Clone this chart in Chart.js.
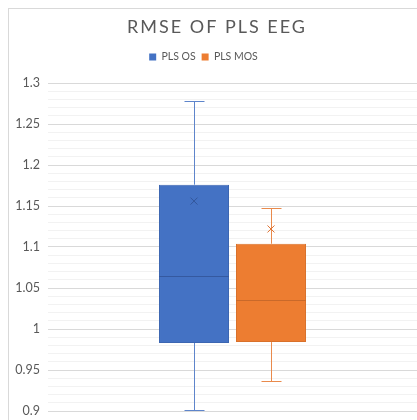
<!DOCTYPE html>
<html><head><meta charset="utf-8">
<script src="https://cdn.jsdelivr.net/npm/chart.js@4/dist/chart.umd.min.js"></script>
<style>html,body{margin:0;padding:0;background:#fff;}</style>
</head><body>
<canvas id="c" width="417" height="420"></canvas>
<script>
// ---- data ----
const categories = ['PLS OS', 'PLS MOS'];
const minValues    = [0.901, 0.937];
const q1Values     = [0.983, 0.984];
const medianValues = [1.065, 1.035];
const q3Values     = [1.176, 1.104];
const maxValues    = [1.278, 1.148];
const meanValues   = [1.156, 1.122];
const yMin = 0.9, yMax = 1.3, yMinorStep = 0.01, yMajorStep = 0.05;
const chartTitle = 'RMSE OF PLS EEG';

// ---- styles ----
const fillColors   = ['#4472C4', '#ED7D31'];
const borderColors = ['#3C66B2', '#D9712B'];
const whiskerColors= ['#5E85CB', '#E98A4C'];
const medianColors = ['#3559A0', '#C9692A'];
const meanColors   = ['#33579C', '#E07332'];
const textColor = '#595959';
const FONT = 'Lato';

const isMajor = v => Math.abs(Math.round(v * 100) % 5) === 0;

const boxPlugin = {
  id: 'boxExtras',
  beforeDraw(chart) {
    const ctx = chart.ctx;
    ctx.save();
    ctx.fillStyle = '#ffffff';
    ctx.fillRect(0, 0, chart.width, chart.height);
    ctx.strokeStyle = '#D9D9D9';
    ctx.lineWidth = 1;
    ctx.strokeRect(8.5, 8.5, 600, 600);
    ctx.restore();
    if (chart.titleBlock && !chart.titleBlock._patched) {
      const tb = chart.titleBlock, orig = tb.draw.bind(tb);
      tb.draw = function () {
        const c = this.ctx; c.save(); c.letterSpacing = '2px'; c.translate(8.5, 0); orig(); c.restore();
      };
      tb._patched = true;
    }
    if (chart.legend && !chart.legend._patched) {
      const lg = chart.legend, orig = lg.draw.bind(lg);
      lg.draw = function () {
        const c = this.ctx; c.save(); c.translate(-5, -10.75); orig(); c.restore();
      };
      lg._patched = true;
    }
  },
  beforeDatasetsDraw(chart) {
    const ctx = chart.ctx, y = chart.scales.y;
    chart.data.datasets.forEach((ds, i) => {
      const bar = chart.getDatasetMeta(i).data[0];
      if (!bar) return;
      const x = Math.round(bar.x) + 0.5;
      const cap = 10;
      ctx.save();
      ctx.strokeStyle = whiskerColors[i];
      ctx.lineWidth = 1;
      const yMaxP = Math.round(y.getPixelForValue(maxValues[i])) + 0.5;
      const yMinP = Math.round(y.getPixelForValue(minValues[i])) + 0.5;
      ctx.beginPath();
      ctx.moveTo(x, yMaxP); ctx.lineTo(x, y.getPixelForValue(q3Values[i]));
      ctx.moveTo(x, yMinP); ctx.lineTo(x, y.getPixelForValue(q1Values[i]));
      ctx.moveTo(x - cap, yMaxP); ctx.lineTo(x + cap, yMaxP);
      ctx.moveTo(x - cap, yMinP); ctx.lineTo(x + cap, yMinP);
      ctx.stroke();
      ctx.restore();
    });
  },
  afterDatasetsDraw(chart) {
    const ctx = chart.ctx, y = chart.scales.y;
    chart.data.datasets.forEach((ds, i) => {
      const bar = chart.getDatasetMeta(i).data[0];
      if (!bar) return;
      const half = bar.width / 2;
      ctx.save();
      ctx.strokeStyle = medianColors[i];
      ctx.lineWidth = 1;
      const ym = Math.round(y.getPixelForValue(medianValues[i])) + 0.5;
      ctx.beginPath();
      ctx.moveTo(bar.x - half, ym); ctx.lineTo(bar.x + half, ym);
      ctx.stroke();
      const yMean = y.getPixelForValue(meanValues[i]);
      const s = 3.5;
      ctx.strokeStyle = meanColors[i];
      ctx.beginPath();
      ctx.moveTo(bar.x - s, yMean - s); ctx.lineTo(bar.x + s, yMean + s);
      ctx.moveTo(bar.x - s, yMean + s); ctx.lineTo(bar.x + s, yMean - s);
      ctx.stroke();
      ctx.restore();
    });
  }
};

const datasets = categories.map((name, i) => ({
  label: name,
  data: [[q1Values[i], q3Values[i]]],
  backgroundColor: fillColors[i],
  borderColor: borderColors[i],
  borderWidth: 1,
  borderSkipped: false,
  categoryPercentage: 0.4173,
  barPercentage: 0.909
}));

new Chart(document.getElementById('c'), {
  type: 'bar',
  data: { labels: [''], datasets },
  plugins: [boxPlugin],
  options: {
    responsive: false,
    animation: false,
    events: [],
    layout: { padding: { top: 8, bottom: 9, left: 0, right: 0 } },
    plugins: {
      tooltip: { enabled: false },
      title: {
        display: true,
        text: chartTitle,
        color: textColor,
        font: { family: FONT, size: 18, weight: 'normal' },
        padding: { top: 8, bottom: 18.9 }
      },
      legend: {
        display: true,
        position: 'top',
        labels: {
          boxWidth: 7, boxHeight: 7, padding: 6,
          color: textColor,
          font: { family: FONT, size: 10.5 },
          generateLabels(chart) {
            return chart.data.datasets.map((ds, i) => ({
              text: ds.label, fillStyle: fillColors[i], strokeStyle: fillColors[i],
              lineWidth: 0, hidden: false, datasetIndex: i, fontColor: textColor
            }));
          }
        }
      }
    },
    scales: {
      x: { display: false, stacked: false },
      y: {
        min: yMin, max: yMax,
        border: { display: false },
        grid: {
          drawTicks: false,
          lineWidth: 1,
          color: c => (c.tick && isMajor(c.tick.value)) ? '#D9D9D9' : '#F2F2F2'
        },
        ticks: {
          stepSize: yMinorStep,
          autoSkip: false,
          padding: 8,
          color: textColor,
          font: { family: FONT, size: 12.5 },
          callback: v => isMajor(v) ? String(Number(v.toFixed(2))) : ''
        },
        afterFit(scale) { scale.width = 48; scale.paddingTop = 0; scale.paddingBottom = 0; }
      }
    }
  }
});
</script>
</body></html>
